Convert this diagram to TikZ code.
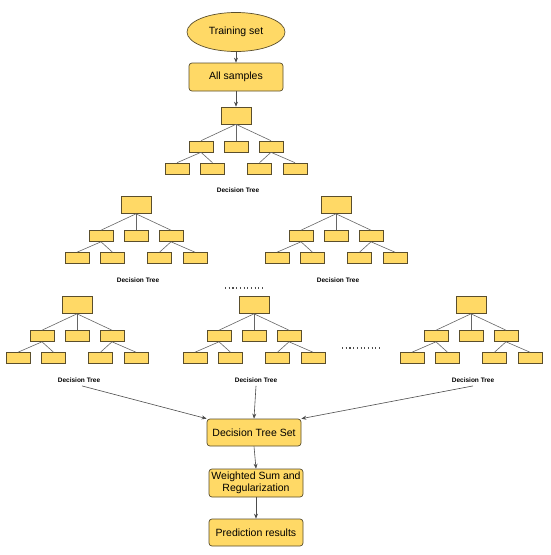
\documentclass[tikz,border=0pt]{standalone}
\usepackage{fontspec}
\setmainfont{Liberation Sans}
\usetikzlibrary{shapes.geometric,arrows.meta}
\definecolor{boxfill}{HTML}{FFD966}
\definecolor{boxline}{HTML}{5A4E2C}
\tikzset{
  tbox/.style={draw=boxline,fill=boxfill,minimum width=24pt,minimum height=11pt,inner sep=0pt,line width=0.6pt},
  troot/.style={tbox,minimum width=30pt,minimum height=17pt},
  branch/.style={draw=black!60,line width=0.6pt},
  bigbox/.style={draw=boxline,fill=boxfill,rounded corners=3pt,minimum width=94pt,minimum height=28pt,inner sep=1pt,font=\fontsize{10.5}{12}\selectfont,align=center,line width=0.7pt},
  flow/.style={-{Stealth[length=5pt,width=4pt]},draw=black!70,line width=0.6pt},
  dtlabel/.style={font=\bfseries\fontsize{6.5}{7}\selectfont},
  dots/.style={draw=black!70,line width=1.1pt,dash pattern=on 1.1pt off 2.6pt}
}
% one decision tree: name, x, y of root
\newcommand{\dtree}[3]{%
  \node[troot] (#1) at (#2,#3) {};
  \foreach \i/\dx in {a/-35,b/0,c/35}
    \node[tbox] (#1\i) at (#2+\dx,#3+31) {};
  \foreach \i/\dx in {d/-59,e/-23.5,f/23.5,g/59}
    \node[tbox] (#1\i) at (#2+\dx,#3+53) {};
  \foreach \i in {a,b,c}
    \draw[branch] (#1.south) -- (#1\i.north);
  \foreach \p/\c in {a/d,a/e,c/f,c/g}
    \draw[branch] (#1\p.south) -- (#1\c.north);
  \node[dtlabel] (#1l) at (#2+2,#3+75) {Decision Tree};
}
\begin{document}
\begin{tikzpicture}[x=1pt,y=-1pt]
\useasboundingbox[fill=white] (0,0) rectangle (550,555);
% top of the flow
\node[ellipse,draw=boxline,fill=boxfill,minimum width=98pt,minimum height=39pt,inner sep=0pt,line width=0.7pt,font=\fontsize{10.5}{12}\selectfont] (train) at (236,32) {Training set};
\node[bigbox] (all) at (236,77) {All samples};
\draw[flow] (train.south) -- (all.north);
% the trees
\dtree{ta}{236}{115.5}
\dtree{tb}{136}{205}
\dtree{tc}{336}{205}
\dtree{td}{77}{305}
\dtree{te}{254}{305}
\dtree{tf}{471}{305}
\draw[flow] (all.south) -- (ta.north);
\draw[dots] (225,288) -- (263,288);
\draw[dots] (342,348) -- (380,348);
% bottom of the flow
\node[bigbox,minimum height=27pt] (set) at (254,432.5) {Decision Tree Set};
\node[bigbox] (sum) at (256,483) {Weighted Sum and\\Regularization};
\node[bigbox,minimum height=27pt] (pred) at (256,532.5) {Prediction results};
\draw[flow] ([xshift=3pt]tdl.south) -- (set.north west);
\draw[flow] (tel.south) -- (set.north);
\draw[flow] (tfl.south) -- (set.north east);
\draw[flow] (set.south) -- (sum.north);
\draw[flow] (sum.south) -- (pred.north);
\end{tikzpicture}
\end{document}
